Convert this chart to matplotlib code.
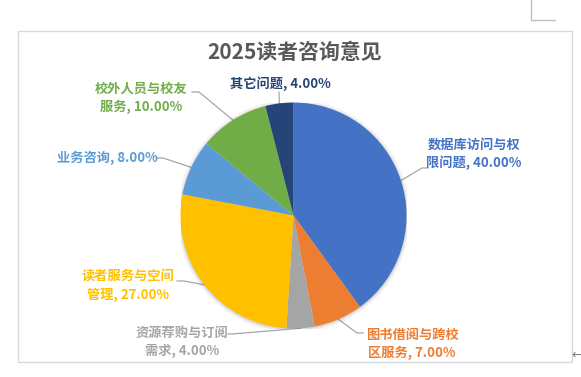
import numpy as np
import matplotlib.pyplot as plt
from matplotlib.patches import Rectangle

plt.rcParams['font.family'] = ['Noto Sans CJK SC', 'DejaVu Sans']

# data
title = '2025读者咨询意见'
categories = ['数据库访问与权\n限问题', '图书借阅与跨校\n区服务', '资源荐购与订阅\n需求',
              '读者服务与空间\n管理', '业务咨询', '校外人员与校友\n服务', '其它问题']
values = [40, 7, 4, 27, 8, 10, 4]
colors = ['#4472C4', '#ED7D31', '#A5A5A5', '#FFC000', '#5B9BD5', '#70AD47', '#264478']

# layout in pixels (origin top-left)
W, H = 581, 377
cx, cy, r = 293.5, 215.5, 113
# label centre, elbow point, end of leader next to label
label_pos = [(474, 154), (412, 344), (182, 342), (128, 286), (107, 158), (141, 98), (280, 84)]
elbows = [(422, 168), (357, 333), (232, 334), (184, 281), (163, 158), (199, 92), (279, 93)]
ends = [(428, 168), (363, 333), (228, 334), (177, 281), (156, 158), (192, 92), (279, 92)]

fig = plt.figure(figsize=(W / 100, H / 100), dpi=100)

# overlay axes in pixel coordinates
bg = fig.add_axes([0, 0, 1, 1])
bg.set_xlim(0, W)
bg.set_ylim(H, 0)
bg.axis('off')

# chart border
bg.add_patch(Rectangle((18, 31), 554, 331, fill=False, edgecolor='#D9D9D9', linewidth=1))
# word page corner mark and arrow
bg.plot([531, 531, 555], [0, 20, 20], color='#BFBFBF', linewidth=1)
bg.text(577, 355, '←', fontsize=9, color='#808080', ha='center', va='center', family='DejaVu Sans')

bg.text(295, 52, title, fontsize=15, fontweight='bold', color='#595959', ha='center', va='center')

# pie
ax = fig.add_axes([(cx - r) / W, 1 - (cy + r) / H, 2 * r / W, 2 * r / H])
# soft shadow
for k, a in [(1.035, 0.03), (1.02, 0.05), (1.008, 0.08)]:
    ax.add_patch(plt.Circle((0.0, -0.005), k, color='black', alpha=a, linewidth=0))
ax.pie(values, colors=colors, startangle=90, counterclock=False, radius=1,
       wedgeprops=dict(linewidth=0))
ax.set_xlim(-1, 1)
ax.set_ylim(-1, 1)
ax.axis('off')

# labels and leader lines
total = sum(values)
cum = 0
for cat, val, col, lp, el, en in zip(categories, values, colors, label_pos, elbows, ends):
    mid = (cum + val / 2) / total * 2 * np.pi
    cum += val
    px = cx + r * np.sin(mid)
    py = cy - r * np.cos(mid)
    bg.plot([px, el[0], en[0]], [py, el[1], en[1]], color='#A6A6A6', linewidth=0.9)
    bg.text(lp[0], lp[1], f'{cat}, {val:.2f}%', fontsize=9.5, fontweight='bold', color=col,
            ha='center', va='center', linespacing=1.35)

fig.savefig('out.png', dpi=100)
